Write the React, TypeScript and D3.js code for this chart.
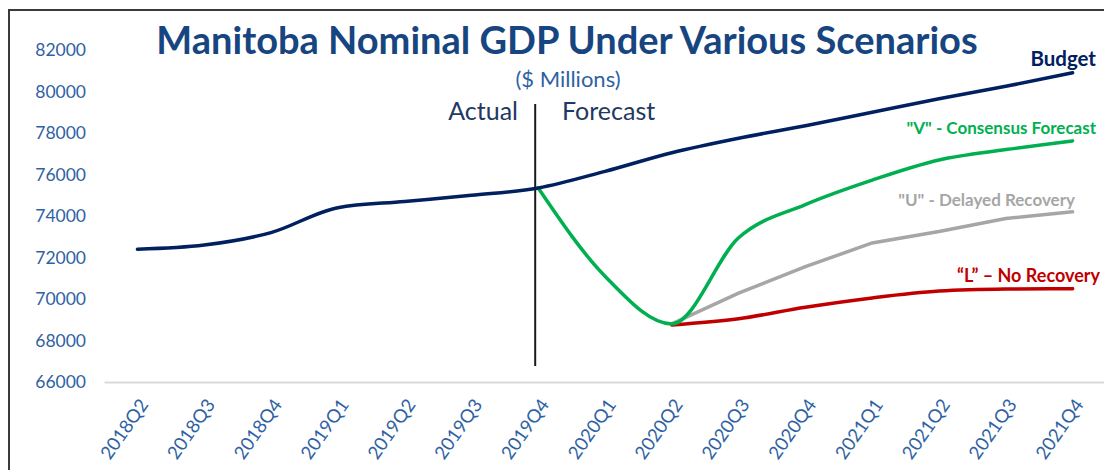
import React, { useRef, useEffect } from 'react';
import * as d3 from 'd3';

const quarters = [
  '2018Q2', '2018Q3', '2018Q4', '2019Q1', '2019Q2', '2019Q3', '2019Q4',
  '2020Q1', '2020Q2', '2020Q3', '2020Q4', '2021Q1', '2021Q2', '2021Q3', '2021Q4',
];
const budget = [72400, 72600, 73200, 74400, 74700, 75000, 75350, 76150, 77050, 77750, 78350, 79000, 79650, 80250, 80900];
// scenarios start where they branch off
const consensus = [null, null, null, null, null, null, 75350, 71100, 68800, 72950, 74550, 75730, 76700, 77200, 77620];
const delayed = [null, null, null, null, null, null, null, null, 68800, 70280, 71560, 72700, 73250, 73880, 74200];
const noRecovery = [null, null, null, null, null, null, null, null, 68750, 69050, 69600, 70050, 70380, 70480, 70500];
const yTicks = [66000, 68000, 70000, 72000, 74000, 76000, 78000, 80000, 82000];
const splitQuarter = '2019Q4';

const FONT = 'Lato, "Open Sans", sans-serif';

const App: React.FC = () => {
  const svgRef = useRef<SVGSVGElement>(null);

  useEffect(() => {
    if (!svgRef.current) return;
    const svg = d3.select(svgRef.current);
    svg.selectAll('*').remove();

    const x = d3.scalePoint<string>().domain(quarters).range([104, 1106]).padding(0.5);
    const y = d3.scaleLinear().domain([66000, 82000]).range([382, 50]);

    // frame of the cropped slide
    svg.append('path')
      .attr('d', 'M9,470 V10 H1104')
      .attr('fill', 'none')
      .attr('stroke', '#3a3a3a')
      .attr('stroke-width', 2);

    // y axis labels
    const yAxis = svg.append('g')
      .attr('transform', 'translate(86,0)')
      .call(d3.axisLeft(y).tickValues(yTicks).tickSize(0).tickPadding(0).tickFormat(d3.format('d')));
    yAxis.select('.domain').remove();
    yAxis.selectAll('text')
      .style('font-family', FONT)
      .style('font-size', '17.5px')
      .attr('fill', '#2f62a3');

    // x axis (baseline)
    const xAxis = svg.append('g')
      .attr('transform', `translate(0,${y(66000)})`)
      .call(d3.axisBottom(x).tickSize(0).tickSizeOuter(0));
    xAxis.select('.domain').attr('stroke', '#d9d9d9').attr('stroke-width', 2);
    xAxis.selectAll('text')
      .style('font-family', FONT)
      .style('font-size', '18.5px')
      .attr('fill', '#2f62a3')
      .attr('text-anchor', 'end')
      .attr('y', 0)
      .attr('dy', '0.35em')
      .attr('transform', 'translate(6,19) rotate(-55)');

    // actual / forecast divider
    const xs = (x(splitQuarter) as number) - 3;
    svg.append('line')
      .attr('x1', xs).attr('x2', xs)
      .attr('y1', 104).attr('y2', 366)
      .attr('stroke', '#1a1a1a')
      .attr('stroke-width', 2);

    const drawLine = (vals: (number | null)[], color: string, curve: d3.CurveFactory) => {
      const line = d3.line<number | null>()
        .defined(d => d !== null)
        .x((_, i) => x(quarters[i]) as number)
        .y(d => y(d as number))
        .curve(curve);
      svg.append('path')
        .attr('d', line(vals))
        .attr('fill', 'none')
        .attr('stroke', color)
        .attr('stroke-width', 3.5)
        .attr('stroke-linecap', 'round');
    };
    drawLine(delayed, '#a6a6a6', d3.curveLinear);
    drawLine(noRecovery, '#c00000', d3.curveMonotoneX);
    drawLine(consensus, '#00b050', d3.curveMonotoneX);
    drawLine(budget, '#002060', d3.curveMonotoneX);

    // titles
    svg.append('text')
      .attr('x', 567).attr('y', 54)
      .attr('text-anchor', 'middle')
      .style('font-family', FONT)
      .style('font-size', '38px')
      .style('font-weight', 700)
      .attr('fill', '#17457f')
      .text('Manitoba Nominal GDP Under Various Scenarios');
    svg.append('text')
      .attr('x', 568).attr('y', 87)
      .attr('text-anchor', 'middle')
      .style('font-family', FONT)
      .style('font-size', '22px')
      .attr('fill', '#2f62a3')
      .text('($ Millions)');
    svg.append('text')
      .attr('x', 518).attr('y', 120)
      .attr('text-anchor', 'end')
      .style('font-family', FONT)
      .style('font-size', '25px')
      .attr('fill', '#1f3864')
      .text('Actual');
    svg.append('text')
      .attr('x', 562).attr('y', 120)
      .style('font-family', FONT)
      .style('font-size', '25px')
      .attr('fill', '#1f3864')
      .text('Forecast');

    // series labels
    const labels = [
      { text: 'Budget', x: 1096, y: 66, color: '#002060', size: 20.5 },
      { text: '"V" -  Consensus Forecast', x: 1096, y: 134, color: '#00b050', size: 17 },
      { text: '"U" - Delayed Recovery', x: 1075, y: 206, color: '#a6a6a6', size: 17 },
      { text: '\u201cL\u201d \u2013 No Recovery', x: 1100, y: 282, color: '#c00000', size: 18 },
    ];
    svg.selectAll('.series-label')
      .data(labels)
      .enter()
      .append('text')
      .attr('class', 'series-label')
      .attr('x', d => d.x)
      .attr('y', d => d.y)
      .attr('text-anchor', 'end')
      .style('font-family', FONT)
      .style('font-weight', 700)
      .style('font-size', d => `${d.size}px`)
      .attr('fill', d => d.color)
      .text(d => d.text);
  }, []);

  return (
    <svg
      ref={svgRef}
      width={1104}
      height={470}
      style={{ position: 'absolute', left: 0, top: 0, background: '#fff' }}
    />
  );
};

export default App;
